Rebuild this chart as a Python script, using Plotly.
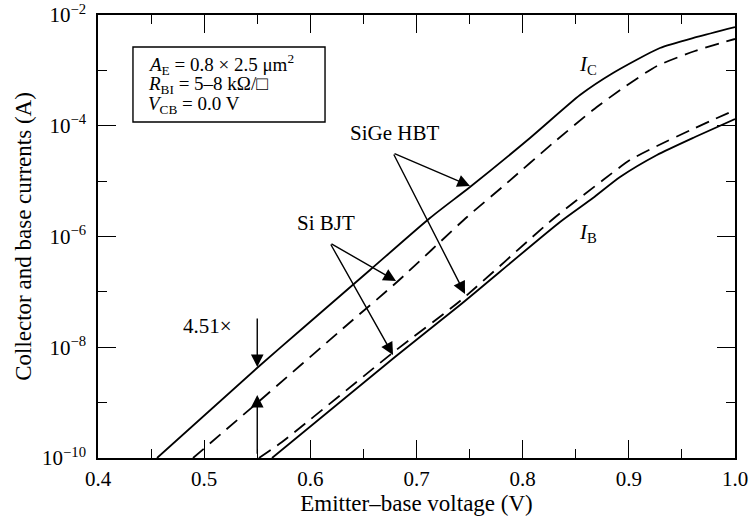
import plotly.graph_objects as go

# ---- data (emitter-base voltage in V, log10 of current in A) ----
ic_sige_v = [0.4556, 0.5498, 0.5931, 0.6562, 0.7127, 0.7504, 0.8069, 0.8540, 0.8851, 0.9293, 0.9642, 1.0]
ic_sige_log10 = [-10.0, -8.375, -7.652, -6.605, -5.666, -5.106, -4.221, -3.445, -3.047, -2.596, -2.397, -2.217]

ic_si_v = [0.4895, 0.5498, 0.6345, 0.6816, 0.7476, 0.7852, 0.8286, 0.8662, 0.8945, 0.9265, 0.9623, 1.0]
ic_si_log10 = [-10.0, -9.007, -7.598, -6.822, -5.648, -5.034, -4.312, -3.716, -3.318, -2.921, -2.650, -2.433]

ib_sige_v = [0.5639, 0.6797, 0.7410, 0.8352, 0.8662, 0.8917, 0.9265, 0.9623, 1.0]
ib_sige_log10 = [-10.0, -8.176, -7.237, -5.738, -5.305, -4.926, -4.528, -4.203, -3.878]

ib_si_v = [0.5516, 0.5733, 0.6797, 0.7410, 0.8286, 0.8757, 0.9011, 0.9265, 0.9623, 1.0]
ib_si_log10 = [-10.0, -9.711, -8.068, -7.165, -5.684, -4.980, -4.619, -4.366, -4.041, -3.716]

x_ticks = [0.4, 0.5, 0.6, 0.7, 0.8, 0.9, 1.0]
x_ticktext = ["0.4", "0.5", "0.6", "0.7", "0.8", "0.9", "1.0"]
x_minor = [0.45, 0.55, 0.65, 0.75, 0.85, 0.95]
y_tick_exp = [-10, -8, -6, -4, -2]
y_minor_exp = [-9, -7, -5, -3]

FONT = "Liberation Serif"
TICK_FS = 21
TITLE_FS = 23
ANN_FS = 21
BOX_FS = 19

fig = go.Figure()

def add_curve(v, lg, dash):
    fig.add_trace(go.Scatter(
        x=v, y=[10 ** e for e in lg], mode="lines",
        line=dict(color="black", width=1.8, dash=dash, shape="spline", smoothing=0.6),
        showlegend=False, hoverinfo="skip"))

add_curve(ic_sige_v, ic_sige_log10, "solid")
add_curve(ic_si_v, ic_si_log10, "14px,8px")
add_curve(ib_sige_v, ib_sige_log10, "solid")
add_curve(ib_si_v, ib_si_log10, "14px,8px")

axis_common = dict(
    showline=True, linecolor="black", linewidth=1.5, mirror="ticks",
    ticks="inside", ticklen=18, tickwidth=1.4, tickcolor="black",
    showgrid=False, zeroline=False, automargin=False,
    tickfont=dict(family=FONT, size=TICK_FS, color="black"),
)

fig.update_layout(
    width=750, height=520,
    margin=dict(l=98, r=15, t=15, b=62, autoexpand=False),
    paper_bgcolor="white", plot_bgcolor="white",
    font=dict(family=FONT, size=TICK_FS, color="black"),
    xaxis=dict(
        range=[0.4, 1.0], tickmode="array", tickvals=x_ticks, ticktext=x_ticktext,
        ticklabelstandoff=1,
        minor=dict(tickmode="array", tickvals=x_minor, ticklen=9, tickwidth=1.4,
                   tickcolor="black", ticks="inside", showgrid=False),
        title=dict(text="Emitter\u2013base voltage (V)", font=dict(family=FONT, size=TITLE_FS), standoff=4),
        **axis_common),
    yaxis=dict(
        type="log", range=[-10, -2], tickmode="array",
        tickvals=[10 ** e for e in y_tick_exp],
        ticktext=["10<sup>\u2212%d</sup>" % (-e) for e in y_tick_exp],
        ticklabelstandoff=6,
        minor=dict(tickmode="array", tickvals=[10 ** e for e in y_minor_exp], ticklen=9,
                   tickwidth=1.4, tickcolor="black", ticks="inside", showgrid=False),
        title=dict(text="Collector and base currents (A)", font=dict(family=FONT, size=TITLE_FS), standoff=4),
        **axis_common),
)

# parameter box
fig.add_shape(type="rect", xref="paper", yref="paper",
              x0=0.0549, x1=0.3564, y0=0.7585, y1=0.9278,
              line=dict(color="black", width=1.4), fillcolor="white", layer="above")
box_lines = [
    "<i>A</i><sub>E</sub> = 0.8 \u00d7 2.5 \u03bcm<sup>2</sup>",
    "<i>R</i><sub>BI</sub> = 5\u20138 k\u03a9/\u25a1",
    "<i>V</i><sub>CB</sub> = 0.0 V",
]
for txt, yy in zip(box_lines, [0.888, 0.842, 0.797]):
    fig.add_annotation(text=txt, xref="paper", yref="paper", x=0.0754, y=yy,
                       xanchor="left", yanchor="middle", showarrow=False,
                       font=dict(family=FONT, size=BOX_FS))

# text labels
labels = [
    ("SiGe HBT", 0.679, -4.13),
    ("Si BJT", 0.6148, -5.76),
    ("4.51\u00d7", 0.5033, -7.617),
    ("<i>I</i><sub>C</sub>", 0.862, -2.90),
    ("<i>I</i><sub>B</sub>", 0.862, -5.94),
]
for txt, xx, yy in labels:
    fig.add_annotation(text=txt, x=xx, y=yy, xref="x", yref="y", showarrow=False,
                       xanchor="center", yanchor="middle", font=dict(family=FONT, size=ANN_FS))

# arrows: (tip_x, tip_y, tail_x, tail_y) with y in log10 units
arrows = [
    (0.55, -8.357, 0.55, -7.454),
    (0.55, -8.862, 0.55, -9.95),
    (0.6807, -6.804, 0.6185, -6.117),
    (0.6779, -8.140, 0.6185, -6.117),
    (0.7504, -5.088, 0.6779, -4.492),
    (0.7457, -7.038, 0.6779, -4.492),
]
for tx, ty, sx, sy in arrows:
    fig.add_annotation(x=tx, y=ty, ax=sx, ay=sy, xref="x", yref="y", axref="x", ayref="y",
                       text="", showarrow=True, arrowhead=2, arrowsize=1.8, arrowwidth=1.4,
                       arrowcolor="black", standoff=0, startstandoff=0)

fig.write_html("out.html", config={"displayModeBar": False},
               post_script="document.body.style.margin='0px';")
